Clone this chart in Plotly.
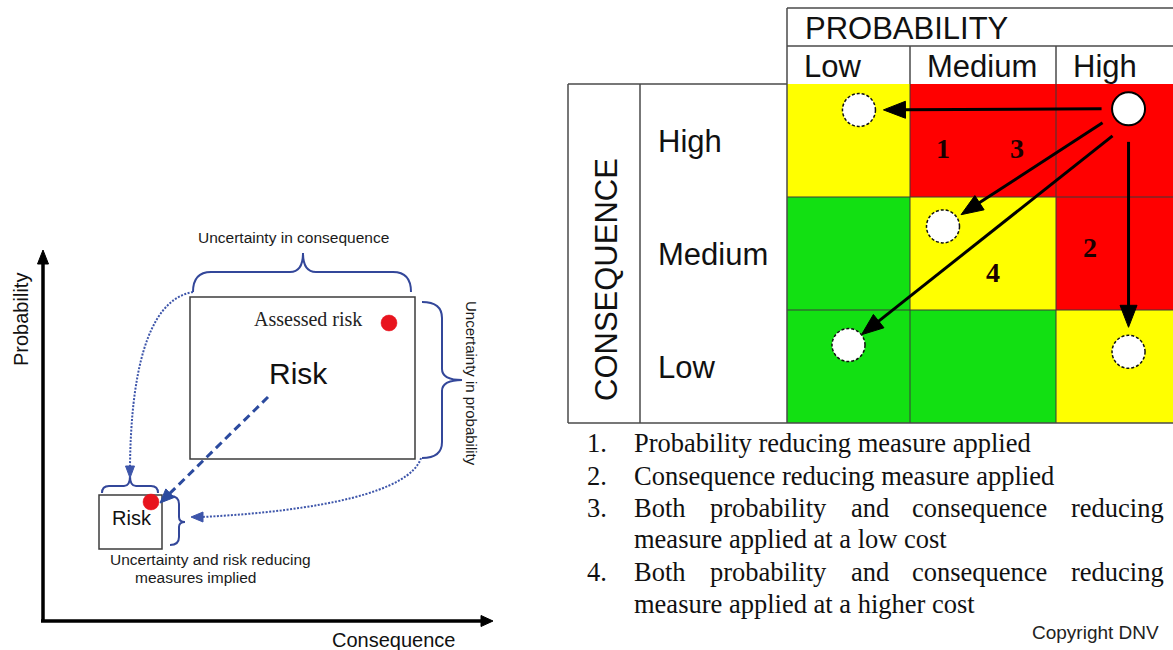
import math
import plotly.graph_objects as go

# ----------------------------- data -----------------------------
probability_levels = ["Low", "Medium", "High"]          # columns, left -> right
consequence_levels = ["High", "Medium", "Low"]          # rows, top -> bottom
risk_level_order = ["Low", "Medium", "High"]
risk_matrix = [
    ["Medium", "High", "High"],     # consequence High
    ["Low", "Medium", "High"],      # consequence Medium
    ["Low", "Low", "Medium"],       # consequence Low
]
initial_risk = ("High", "High")     # (probability, consequence)
measure_ids = ["1", "2", "3", "4"]
measure_prob = ["Low", "High", "Medium", "Low"]
measure_cons = ["High", "Low", "Medium", "Low"]
legend_items = [
    ("1.", ["Probability reducing measure applied"]),
    ("2.", ["Consequence reducing measure applied"]),
    ("3.", ["Both probability and consequence reducing", "measure applied at a low cost"]),
    ("4.", ["Both probability and consequence reducing", "measure applied at a higher cost"]),
]
matrix_title_x = "PROBABILITY"
matrix_title_y = "CONSEQUENCE"
left_axis_x = "Consequence"
left_axis_y = "Probability"
label_unc_cons = "Uncertainty in consequence"
label_unc_prob = "Uncertainty in probability"
label_assessed = "Assessed risk"
label_risk = "Risk"
label_reduced = ["Uncertainty and risk reducing", "measures implied"]
copyright_text = "Copyright DNV"

# ------------------------ layout / style ------------------------
W, H = 1173, 650
SANS = "Liberation Sans"
SERIF = "Liberation Serif"
col_edges = [787, 910, 1056, 1173]
row_edges = [84, 197, 310, 423]
header_top, header_mid = 8, 46
left_box_x0, left_box_div = 568, 640
level_colors = {"Low": "#12e012", "Medium": "#ffff00", "High": "#ff0000"}
grid_color = "#3a3a3a"
table_color = "#4a4a4a"

circle_r = 16.5
initial_pos = (0.62, 0.22)                       # fractional position inside cell
target_pos = [(0.585, 0.23), (0.62, 0.37), (0.226, 0.26), (0.5, 0.31)]
start_off = [(-27, 0), (0, 33), (-26, 14), (-16, 27)]
tip_gap = [8, 8, 5, 0]
num_label_xy = [(943, 148), (1090, 247), (1017, 148), (993, 272)]

blue_brace = "#33479a"
blue_dot = "#3d55aa"
blue_dash = "#2b4a9e"
red_dot = "#e8141e"
small_text = "#1a1a1a"

shapes = []
annos = []


def txt(x, y, text, size, family=SANS, xanchor="center", yanchor="middle",
        angle=0, color="#111111", weight="normal"):
    annos.append(dict(x=x, y=y, xref="x", yref="y", text=text, showarrow=False,
                      xanchor=xanchor, yanchor=yanchor, textangle=angle,
                      font=dict(family=family, size=size, color=color, weight=weight)))


def line(x0, y0, x1, y1, color, width, dash="solid"):
    shapes.append(dict(type="line", xref="x", yref="y", x0=x0, y0=y0, x1=x1, y1=y1,
                       line=dict(color=color, width=width, dash=dash)))


def head(tip, tail, L, Wd, color):
    ux, uy = tip[0] - tail[0], tip[1] - tail[1]
    n = math.hypot(ux, uy)
    ux, uy = ux / n, uy / n
    bx, by = tip[0] - ux * L, tip[1] - uy * L
    px, py = -uy * Wd / 2, ux * Wd / 2
    path = f"M{tip[0]},{tip[1]} L{bx+px},{by+py} L{bx-px},{by-py} Z"
    shapes.append(dict(type="path", xref="x", yref="y", path=path,
                       fillcolor=color, line=dict(color=color, width=1)))
    return (bx, by)


def arrow(tail, tip, color, width, L, Wd, dash="solid"):
    base = head(tip, tail, L, Wd, color)
    line(tail[0], tail[1], base[0] + (tip[0]-base[0]) * 0.2, base[1] + (tip[1]-base[1]) * 0.2,
         color, width, dash)


def path(d, color, width, dash="solid"):
    shapes.append(dict(type="path", xref="x", yref="y", path=d,
                       line=dict(color=color, width=width, dash=dash)))


def circle(cx, cy, r, fill, color, width, dash="solid"):
    shapes.append(dict(type="circle", xref="x", yref="y", x0=cx - r, x1=cx + r,
                       y0=cy - r, y1=cy + r, fillcolor=fill,
                       line=dict(color=color, width=width, dash=dash)))


def hbrace(x0, x1, y_end, y_mid, x_tip, y_tip, r_end, r_tip, color, width):
    d = (f"M{x0},{y_end} Q{x0},{y_mid} {x0+r_end},{y_mid} L{x_tip-r_tip},{y_mid} "
         f"Q{x_tip},{y_mid} {x_tip},{y_tip} Q{x_tip},{y_mid} {x_tip+r_tip},{y_mid} "
         f"L{x1-r_end},{y_mid} Q{x1},{y_mid} {x1},{y_end}")
    path(d, color, width)


def vbrace(y0, y1, x_end, x_mid, y_tip, x_tip, r_end, r_tip, color, width):
    d = (f"M{x_end},{y0} Q{x_mid},{y0} {x_mid},{y0+r_end} L{x_mid},{y_tip-r_tip} "
         f"Q{x_mid},{y_tip} {x_tip},{y_tip} Q{x_mid},{y_tip} {x_mid},{y_tip+r_tip} "
         f"L{x_mid},{y1-r_end} Q{x_mid},{y1} {x_end},{y1}")
    path(d, color, width)


fig = go.Figure()

# ------------------------- risk matrix --------------------------
z = [[risk_level_order.index(v) for v in row] for row in risk_matrix]
cs = [[0, level_colors["Low"]], [0.333, level_colors["Low"]],
      [0.333, level_colors["Medium"]], [0.667, level_colors["Medium"]],
      [0.667, level_colors["High"]], [1, level_colors["High"]]]
fig.add_trace(go.Heatmap(x=col_edges, y=row_edges, z=z, zmin=0, zmax=2,
                         colorscale=cs, showscale=False, hoverinfo="skip"))

# grid lines inside the matrix
for xe in col_edges[1:-1]:
    line(xe, row_edges[0], xe, row_edges[-1], grid_color, 1)
for ye in row_edges[1:-1]:
    line(col_edges[0], ye, col_edges[-1], ye, grid_color, 1)

# table frame / headers
line(col_edges[0], header_top, W, header_top, table_color, 1.5)
line(col_edges[0], header_mid, W, header_mid, table_color, 1.5)
line(col_edges[0], header_top, col_edges[0], row_edges[-1], table_color, 1.5)
for xe in col_edges[1:-1]:
    line(xe, header_mid, xe, row_edges[0], table_color, 1.5)
line(left_box_x0, row_edges[0], col_edges[0], row_edges[0], table_color, 1.5)
line(left_box_x0, row_edges[-1], W, row_edges[-1], table_color, 1.5)
line(left_box_x0, row_edges[0], left_box_x0, row_edges[-1], table_color, 1.5)
line(left_box_div, row_edges[0], left_box_div, row_edges[-1], table_color, 1.5)

txt(col_edges[0] + 16, (header_top + header_mid) / 2 + 1, matrix_title_x, 31, xanchor="left")
for i, lab in enumerate(probability_levels):
    txt(col_edges[i] + 15, (header_mid + row_edges[0]) / 2 + 1, lab, 31, xanchor="left")
for j, lab in enumerate(consequence_levels):
    txt(left_box_div + 16, (row_edges[j] + row_edges[j + 1]) / 2 + 1, lab, 31, xanchor="left")
txt((left_box_x0 + left_box_div) / 2 + 2, 280, matrix_title_y, 31, angle=-90)


def cell_point(prob, cons, frac):
    c = probability_levels.index(prob)
    r = consequence_levels.index(cons)
    x = col_edges[c] + frac[0] * (col_edges[c + 1] - col_edges[c])
    y = row_edges[r] + frac[1] * (row_edges[r + 1] - row_edges[r])
    return x, y


ix, iy = cell_point(initial_risk[0], initial_risk[1], initial_pos)
for k in range(len(measure_ids)):
    tx, ty = cell_point(measure_prob[k], measure_cons[k], target_pos[k])
    sx, sy = ix + start_off[k][0], iy + start_off[k][1]
    dx, dy = sx - tx, sy - ty
    n = math.hypot(dx, dy)
    d = circle_r + tip_gap[k]
    tip = (tx + dx / n * d, ty + dy / n * d)
    arrow((sx, sy), tip, "#000000", 3, 22, 17)
    circle(tx, ty, circle_r, "#ffffff", "#111111", 1.5, dash="3px,2px")
    txt(num_label_xy[k][0], num_label_xy[k][1], measure_ids[k], 28, family=SERIF,
        weight="bold", color="#1a0000")
circle(ix, iy, circle_r, "#ffffff", "#000000", 2)

# legend list under the matrix
line_y = [[443, None], [476, None], [508, 539], [572, 604]]
just_x = [632, 708, 849, 910]
for k, (num, lines_) in enumerate(legend_items):
    txt(585, line_y[k][0], num, 26.5, family=SERIF, xanchor="left")
    for li, t in enumerate(lines_):
        y = line_y[k][li]
        words = t.split(" ")
        if len(lines_) > 1 and li == 0:
            for wi, w in enumerate(words[:-1]):
                txt(just_x[wi], y, w, 26.5, family=SERIF, xanchor="left")
            txt(1166, y, words[-1], 26.5, family=SERIF, xanchor="right")
        else:
            txt(632, y, t, 26.5, family=SERIF, xanchor="left")
txt(1161, 632, copyright_text, 19, xanchor="right", color="#222222")

# -------------------------- left diagram --------------------------
# axes
arrow((43, 621), (43, 250), "#000000", 3.5, 14, 11)
arrow((41, 621), (493, 621), "#000000", 3.5, 12, 11)
txt(21, 320, left_axis_y, 20, angle=-90)
txt(393, 640, left_axis_x, 20)

# assessed-risk box
shapes.append(dict(type="rect", xref="x", yref="y", x0=190, x1=415, y0=297, y1=459,
                   line=dict(color="#3c3c3c", width=1.5), fillcolor="rgba(0,0,0,0)"))
txt(308, 319, label_assessed, 20, family=SERIF, color="#222222")
circle(389, 323, 8, red_dot, red_dot, 0.5)
txt(298, 373, label_risk, 30, color="#111111")

# reduced-risk box
shapes.append(dict(type="rect", xref="x", yref="y", x0=99, x1=162, y0=495, y1=549,
                   line=dict(color="#3c3c3c", width=1.5), fillcolor="rgba(0,0,0,0)"))
txt(132, 518, label_risk, 20, color="#111111")

# braces
hbrace(193, 411, 292, 272, 303, 253, 18, 13, blue_brace, 2)
vbrace(302, 458, 422, 442, 380, 462, 16, 11, blue_brace, 2)
hbrace(102, 158, 493, 486, 130, 476, 7, 6, blue_brace, 2)
vbrace(496, 545, 170, 179, 522, 185, 8, 5, blue_brace, 2)

# dotted curved arrows
path("M193,292 C145,300 131,380 130,466", blue_dot, 2, dash="2px,1.5px")
head((130, 478), (130, 460), 12, 9, blue_dot)
path("M421,458 C410,492 320,511 202,517", blue_dot, 2, dash="2px,1.5px")
head((191, 517), (210, 517), 12, 10, blue_dot)

# dashed straight arrow
circle(151, 502, 8, red_dot, red_dot, 0.5)
arrow((268, 397), (160, 503), blue_dash, 3, 14, 12, dash="8px,5px")

txt(293, 237, label_unc_cons, 15.5, color=small_text)
txt(472, 383, label_unc_prob, 15, angle=90, color=small_text)
txt(210, 559, label_reduced[0], 15.5, color=small_text)
txt(195, 577, label_reduced[1], 15.5, color=small_text)

fig.update_layout(
    width=W, height=H, margin=dict(l=0, r=0, t=0, b=0),
    paper_bgcolor="white", plot_bgcolor="white", showlegend=False,
    xaxis=dict(range=[0, W], visible=False, fixedrange=True),
    yaxis=dict(range=[H, 0], visible=False, fixedrange=True),
    shapes=shapes, annotations=annos,
)
fig.write_html("out.html", config={"displayModeBar": False},
               post_script="document.body.style.margin='0px';")
